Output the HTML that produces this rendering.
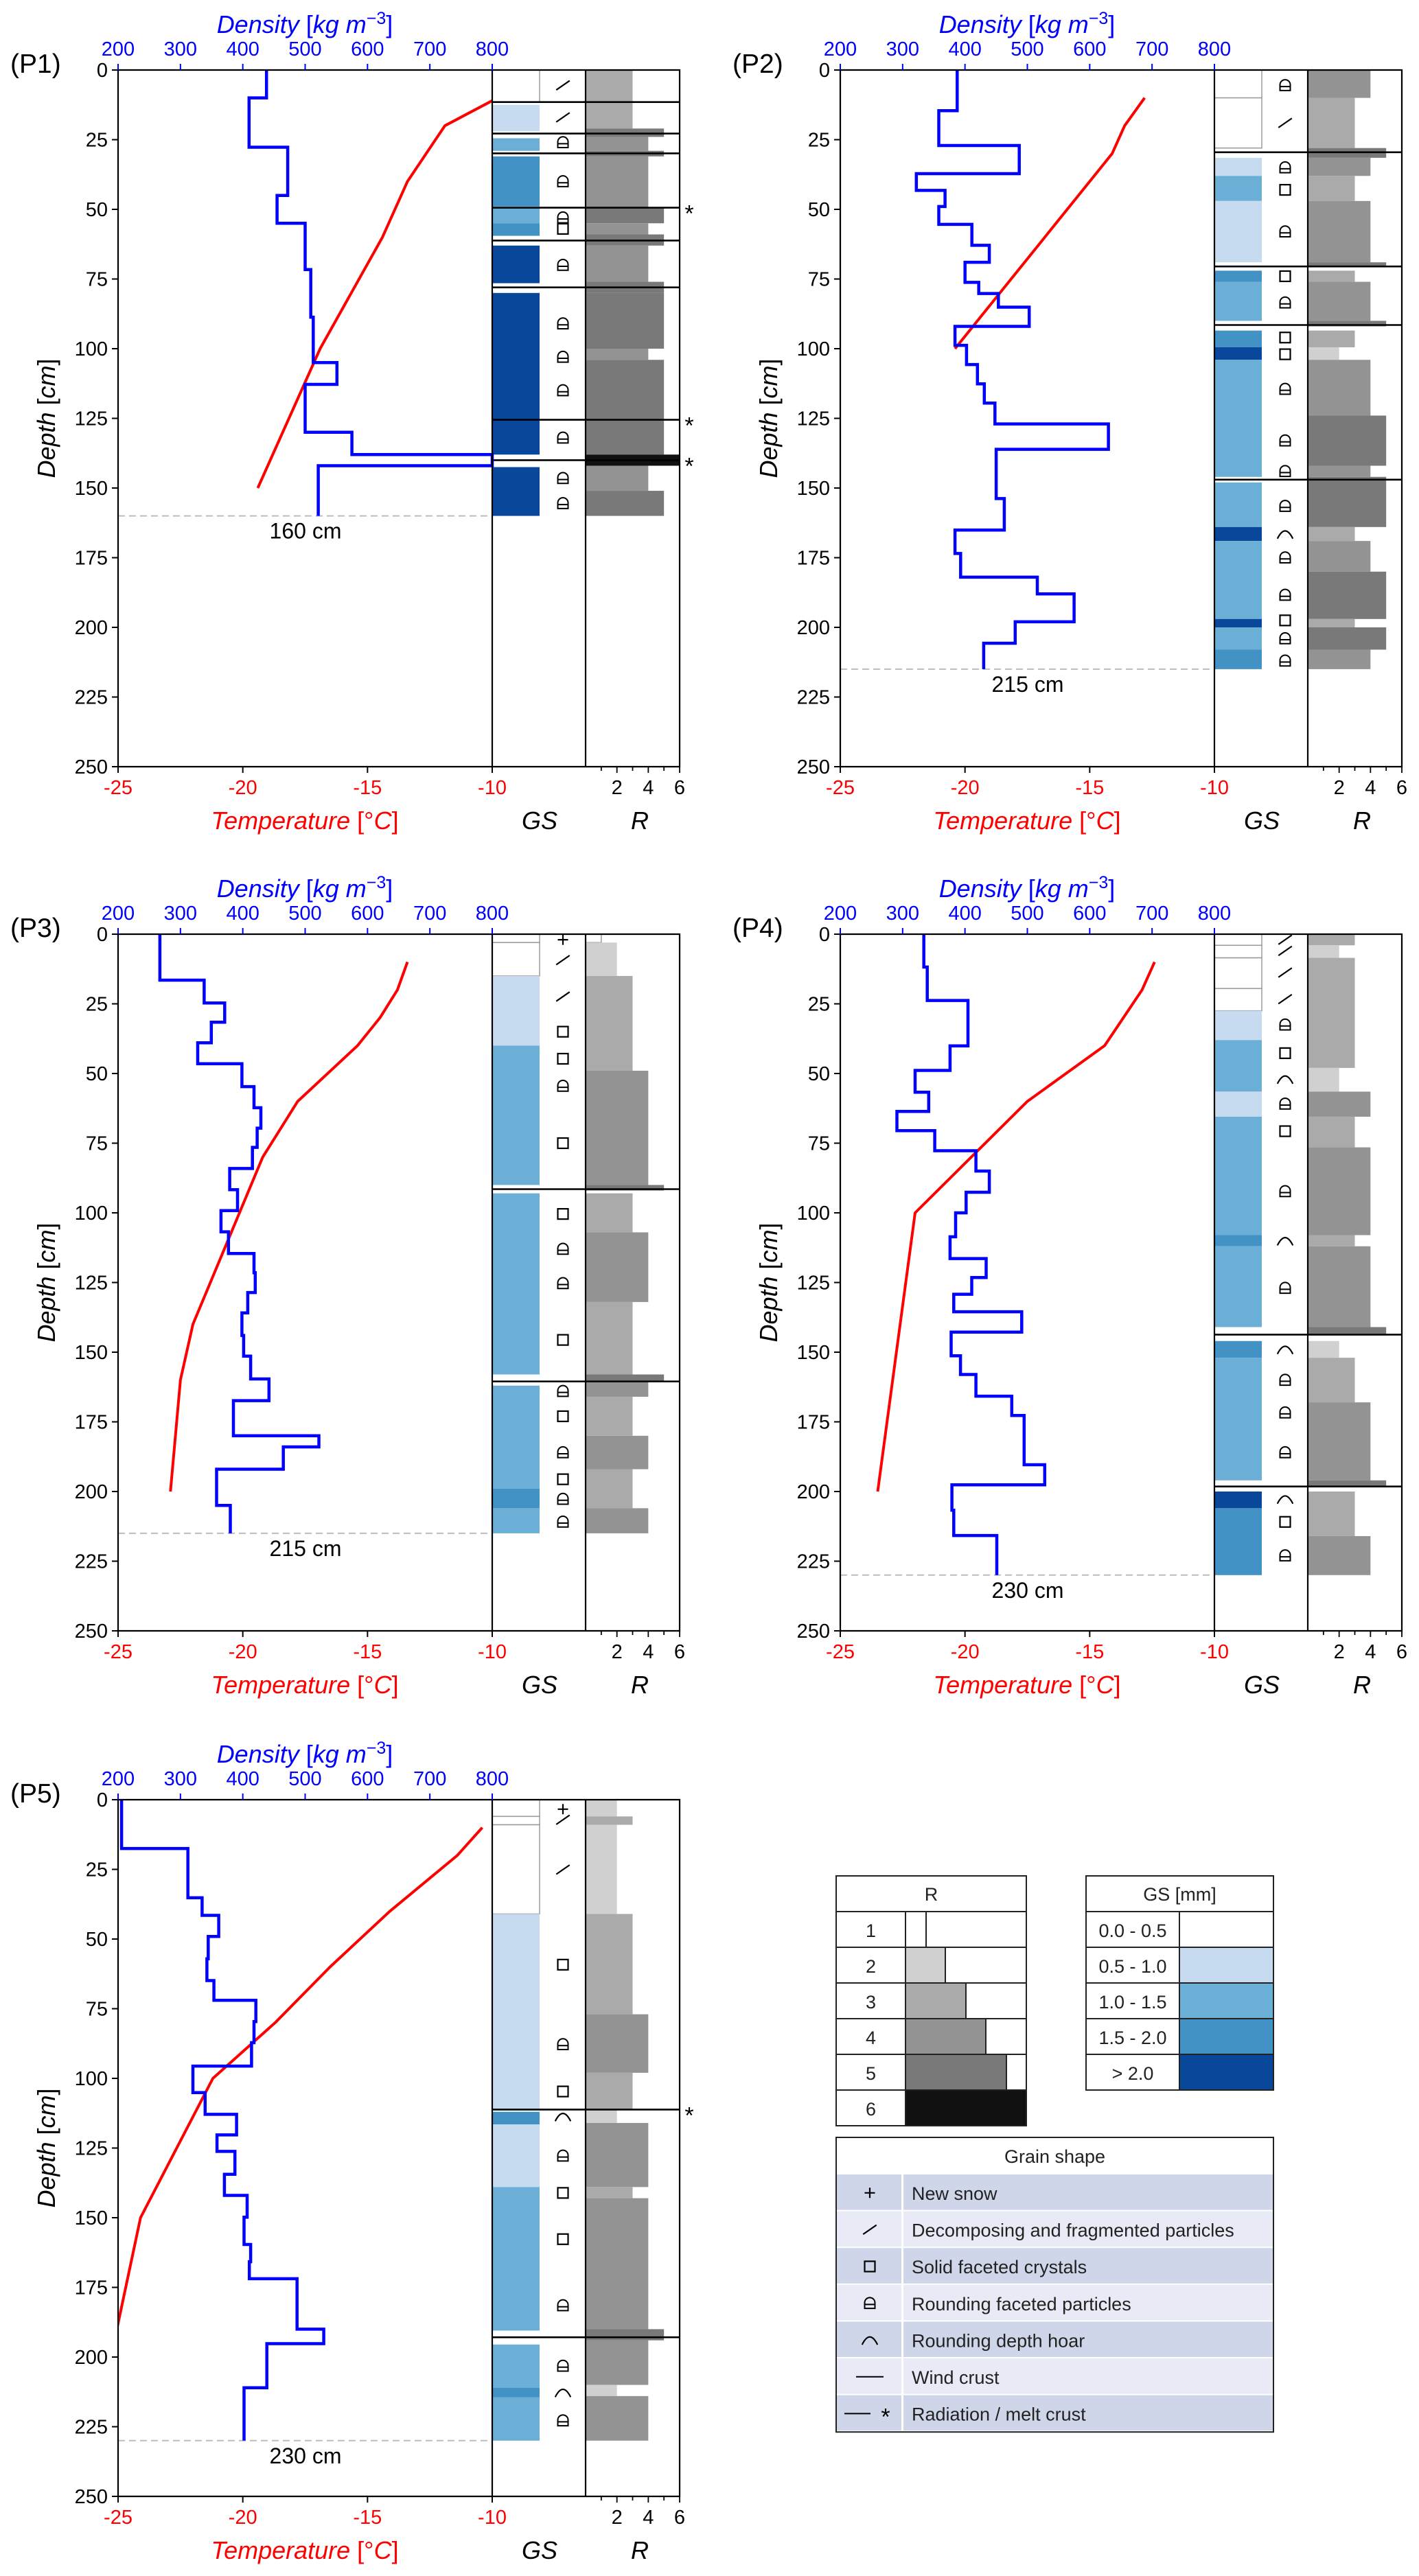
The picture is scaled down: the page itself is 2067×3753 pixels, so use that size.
<!DOCTYPE html>
<html><head><meta charset="utf-8"><title>Snow profiles P1–P5</title>
<style>
html,body{margin:0;padding:0;background:#fff;}
svg{display:block;font-family:"Liberation Sans",Arial,sans-serif;}
</style></head>
<body>
<svg id="fig" xmlns="http://www.w3.org/2000/svg" width="2067" height="3753" viewBox="0 0 2067 3753">
<rect x="0" y="0" width="2067" height="3753" fill="#fff"/>
</svg>
<script>
// ---------- data ----------
const p1DensTop=[0,10,27.7,45,55,71.6,88.7,105,112.8,130,138,142];
const p1Dens=[438,410,472,455,500,509,513,551,500,575,800,521];
const p1TempDepth=[11,20,40,60,100,150];
const p1Temp=[-10,-11.9,-13.4,-14.4,-16.9,-19.4];
const p1GsTop=[0,12.5,24.5,31,49.5,55,63,80,142.5];
const p1GsBot=[11.5,22,29,49,55,59.5,76.5,138,160];
const p1GsCls=[0,1,2,3,2,3,4,4,4];
const p1RTop=[0,21,24,29,31,49.5,55,59,63,76,80,100,104,138,142,151];
const p1RBot=[21,24,29,31,49.5,55,59,63,76,80,100,104,138,142,151,160];
const p1RVal=[3,5,4,5,4,5,4,5,4,5,5,4,5,6,4,5];
const p1SymDepth=[5.5,17,26,40,53,57,70,91,103,115,132,146.5,155.5];
const p1SymType=['d','d','r','r','r','s','r','r','r','r','r','r','r'];
const p1CrustDepth=[11.5,22.8,29.9,49.4,61.2,78,125.5,140];
const p1CrustStar=[0,0,0,1,0,0,1,1];

const p2DensTop=[0,14.6,27.1,37.2,43.2,49,55.4,62.9,69,76.2,80.2,85.1,92,98.8,105.7,112.6,119.5,127,136.1,153.8,165.1,173.5,182,188,198,205.7];
const p2Dens=[387.5,358,487,322,368,358,411,439,400,422,453.5,503,384,402.5,420,431,448,630,450,463,384,393,516,575,480.5,430];
const p2TempDepth=[10,20,30,100];
const p2Temp=[-12.8,-13.6,-14.1,-20.4];
const p2GsTop=[0,10,31.5,38,47,72,76,93.5,99.5,104,148,164,169,197,200,208];
const p2GsBot=[10,28,38,47,69,76,90,99.5,104,146,164,169,197,200,208,215];
const p2GsCls=[0,0,1,2,1,3,2,3,4,2,2,4,2,4,2,3];
const p2RTop=[0,10,28,31.5,38,47,69,72,76,90,93.5,99.5,104,124,142,146,164,169,180,197,200,208];
const p2RBot=[10,28,31.5,38,47,69,70.5,76,90,92,99.5,104,124,142,146,164,169,180,197,200,208,215];
const p2RVal=[4,3,5,4,3,4,5,3,4,5,3,2,4,5,4,5,3,4,5,3,5,4];
const p2SymDepth=[5.5,19,35,43,58,74,83.5,96,102,114.5,133,144,156.5,166.5,175,188.4,197.5,204,212];
const p2SymType=['r','d','r','s','r','s','r','s','s','r','r','r','r','h','r','r','s','r','r'];
const p2CrustDepth=[29.5,70.5,91.5,147];
const p2CrustStar=[0,0,0,0];

const p3DensTop=[0,16.5,24.7,31.6,39,46.5,54.7,62.3,69.6,76.5,84.1,91.7,99.2,106.8,114.6,121.5,128.6,135.9,144,151.4,159.6,167.4,180,184,192,205];
const p3Dens=[267,338,371,349.5,327.7,398.6,418,429,423,415.5,379,391.6,365,377,418,420,408,398.6,401.4,412.6,442,385,522,465,358,380];
const p3TempDepth=[10,20,30,40,60,80,140,160,200];
const p3Temp=[-13.4,-13.8,-14.5,-15.4,-17.8,-19.2,-22.0,-22.5,-22.9];
const p3GsTop=[0,3,15,40,93,162,199,206];
const p3GsBot=[3,15,40,90,158,199,206,215];
const p3GsCls=[0,0,1,2,2,2,3,2];
const p3RTop=[0,3,15,49,90,93,107,132,158,160.5,166,180,192,206];
const p3RBot=[3,15,49,90,92,107,132,158,160.5,166,180,192,206,215];
const p3RVal=[1,2,3,4,5,3,4,3,5,4,3,4,3,4];
const p3SymDepth=[2,9.3,22.4,35,44.7,54.5,75,100.4,113,125.3,145.6,164,173,186,195.6,202.7,210.9];
const p3SymType=['n','d','d','s','s','r','s','s','r','r','s','r','s','r','s','r','r'];
const p3CrustDepth=[91.5,160.5];
const p3CrustStar=[0,0];

const p4DensTop=[0,11.8,23.8,40.1,48.9,56.7,63.6,70.5,77.7,85,92.6,100,108.6,116.4,123.2,129.2,135.5,142.8,151.3,158,165.8,172.7,190.4,197.6,206.7,215.8];
const p4Dens=[334,339.5,404.8,376,320,341.8,290.8,351.5,417.5,439,401.8,385,376,434,410.8,382,491,377.8,392.8,417.5,475,494.8,527.8,379,382,451];
const p4TempDepth=[10,20,40,60,100,200];
const p4Temp=[-12.4,-12.9,-14.4,-17.5,-22.0,-23.5];
const p4GsTop=[0,4,8.5,19.5,27.5,38,56.5,65.5,108,112,146,152,200,206];
const p4GsBot=[4,8.5,19.5,27.5,38,56.5,65.5,108,112,141,152,196,206,230];
const p4GsCls=[0,0,0,0,1,2,1,2,3,2,3,2,4,3];
const p4RTop=[0,4,8.5,48,56.5,65.5,76.5,108,112,141,146,152,168,196,200,216];
const p4RBot=[4,8.5,48,56.5,65.5,76.5,108,112,141,144,152,168,196,198,216,230];
const p4RVal=[3,2,3,2,4,3,4,3,4,5,2,3,4,5,3,4];
const p4SymDepth=[2,6,13.8,23.3,32.5,42.7,52,60.9,70.7,92.3,110,127,149,160,171.7,186,202.7,210.9,223];
const p4SymType=['d','d','d','d','r','s','h','r','s','r','h','r','h','r','r','r','h','s','r'];
const p4CrustDepth=[143.7,198.2];
const p4CrustStar=[0,0];

const p5DensTop=[0,17.5,35.2,41.5,49.1,57.1,64.9,72,79.6,87.2,95.6,105.1,112.9,120.3,126.2,134.4,142,149.8,159.6,165.8,171.9,190,195.2,211];
const p5Dens=[205.6,312,334.7,361.4,344.6,342.5,353.7,421,418,414,320,339.6,390,358.6,387.4,370.5,407,402,412.6,410.5,487,529.8,438.6,402];
const p5TempDepth=[10,20,40,60,80,100,150,190];
const p5Temp=[-10.4,-11.4,-14.1,-16.5,-18.7,-21.2,-24.1,-25.05];
const p5GsTop=[0,6,9,41,112,116.5,139,195.5,211,214.5];
const p5GsBot=[6,9,41,111,116.5,139,190.5,211,214.5,230];
const p5GsCls=[0,0,0,1,3,1,2,2,3,2];
const p5RTop=[0,6,9,41,77,98,111,116,139,143,190,194,210,214];
const p5RBot=[6,9,41,77,98,111,116,139,143,190,194,210,214,230];
const p5RVal=[2,3,2,3,4,3,2,4,3,4,5,4,2,4];
const p5SymDepth=[3.4,7.2,25.1,59.2,87.8,104.7,113.7,127.8,141.1,157.7,181.5,203.2,212.7,222.8];
const p5SymType=['n','d','d','s','r','s','h','r','s','s','r','r','h','r'];
const p5CrustDepth=[111.2,192.9];
const p5CrustStar=[1,0];

const profileNames=['P1','P2','P3','P4','P5'];
const profileBottoms=[160,215,215,230,230];
const depthTicks=[0,25,50,75,100,125,150,175,200,225,250];
const densTicks=[200,300,400,500,600,700,800];
const tempTicks=[-25,-20,-15,-10];
const rTicks=[1,2,3,4,5,6];
const rTickLabels=['','2','','4','','6'];

const gsLegendLabels=['0.0 - 0.5','0.5 - 1.0','1.0 - 1.5','1.5 - 2.0','> 2.0'];
const rLegendValues=[1,2,3,4,5,6];
const shapeLegendTypes=['n','d','s','r','h','w','c'];
const shapeLegendLabels=['New snow','Decomposing and fragmented particles','Solid faceted crystals','Rounding faceted particles','Rounding depth hoar','Wind crust','Radiation / melt crust'];

// ---------- styles ----------
const GS_COL=['#ffffff','#c6dbef','#6baed6','#4292c6','#08479a'];
const R_COL={1:'#ffffff',2:'#d0d0d0',3:'#aaaaaa',4:'#939393',5:'#797979',6:'#111111'};
const NS='http://www.w3.org/2000/svg';
const svg=document.getElementById('fig');
const W=545, H=1015, PXCM=H/250, GSW=136, GSC=69, RW=137;
const origins=[[172,102],[1224,102],[172,1361],[1224,1361],[172,2622]];

function el(tag,attrs,parent){
  const e=document.createElementNS(NS,tag);
  for(const k in attrs) e.setAttribute(k,attrs[k]);
  (parent||svg).appendChild(e);
  return e;
}
function txt(s,attrs,parent){const e=el('text',attrs,parent);e.textContent=s;return e;}

function drawSym(type,cx,cy,g){
  const s=15;
  let e;
  if(type==='n'){
    e=el('path',{d:`M${cx-s/2},${cy}H${cx+s/2}M${cx},${cy-s/2}V${cy+s/2}`,stroke:'#000','stroke-width':2.2,fill:'none'},g);
  }else if(type==='d'){
    e=el('path',{d:`M${cx-s*0.65},${cy+s*0.45}L${cx+s*0.65},${cy-s*0.45}`,stroke:'#000','stroke-width':2.2,fill:'none'},g);
  }else if(type==='s'){
    e=el('rect',{x:cx-s/2,y:cy-s/2,width:s,height:s,stroke:'#000','stroke-width':2.2,fill:'none'},g);
  }else if(type==='r'){
    e=el('path',{d:`M${cx-s/2},${cy+s/2}V${cy-s*0.05}A${s/2},${s/2} 0 0 1 ${cx+s/2},${cy-s*0.05}V${cy+s/2}ZM${cx-s/2},${cy+s*0.12}H${cx+s/2}`,stroke:'#000','stroke-width':2,fill:'none'},g);
  }else if(type==='h'){
    e=el('path',{d:`M${cx-s*0.75},${cy+s*0.45}Q${cx},${cy-s*1.05} ${cx+s*0.75},${cy+s*0.45}`,stroke:'#000','stroke-width':2.2,fill:'none'},g);
  }else if(type==='w'){
    e=el('path',{d:`M${cx-20},${cy}H${cx+20}`,stroke:'#000','stroke-width':2,fill:'none'},g);
  }else if(type==='c'){
    e=el('path',{d:`M${cx-37},${cy}H${cx+1}`,stroke:'#000','stroke-width':2,fill:'none'},g);
    const st=txt('*',{x:cx+23,y:cy+16,'font-size':34,'text-anchor':'middle',fill:'#000'},g);
    
    
  }
  return e;
}

const profiles=[
 {dT:p1DensTop,d:p1Dens,tD:p1TempDepth,t:p1Temp,gT:p1GsTop,gB:p1GsBot,gC:p1GsCls,rT:p1RTop,rB:p1RBot,rV:p1RVal,sD:p1SymDepth,sT:p1SymType,cD:p1CrustDepth,cS:p1CrustStar},
 {dT:p2DensTop,d:p2Dens,tD:p2TempDepth,t:p2Temp,gT:p2GsTop,gB:p2GsBot,gC:p2GsCls,rT:p2RTop,rB:p2RBot,rV:p2RVal,sD:p2SymDepth,sT:p2SymType,cD:p2CrustDepth,cS:p2CrustStar},
 {dT:p3DensTop,d:p3Dens,tD:p3TempDepth,t:p3Temp,gT:p3GsTop,gB:p3GsBot,gC:p3GsCls,rT:p3RTop,rB:p3RBot,rV:p3RVal,sD:p3SymDepth,sT:p3SymType,cD:p3CrustDepth,cS:p3CrustStar},
 {dT:p4DensTop,d:p4Dens,tD:p4TempDepth,t:p4Temp,gT:p4GsTop,gB:p4GsBot,gC:p4GsCls,rT:p4RTop,rB:p4RBot,rV:p4RVal,sD:p4SymDepth,sT:p4SymType,cD:p4CrustDepth,cS:p4CrustStar},
 {dT:p5DensTop,d:p5Dens,tD:p5TempDepth,t:p5Temp,gT:p5GsTop,gB:p5GsBot,gC:p5GsCls,rT:p5RTop,rB:p5RBot,rV:p5RVal,sD:p5SymDepth,sT:p5SymType,cD:p5CrustDepth,cS:p5CrustStar}
];

profiles.forEach((p,i)=>{
  const [x0,y0]=origins[i];
  const yb=y0+H, gx=x0+W, rx=x0+W+GSW;
  const yS=d=>y0+d*PXCM;
  const xT=t=>x0+(t+25)/15*W;
  const xD=v=>x0+(v-200)/600*W;
  const xR=r=>rx+r/6*RW;
  const nm=profileNames[i].toLowerCase();
  const bottom=profileBottoms[i];

  const g=el('g',{});
  
  

  const clip=el('clipPath',{id:'clip'+i},g);
  el('rect',{x:x0,y:y0,width:W,height:H},clip);

  // GS blocks
  p.gT.forEach((t,k)=>{
    const c=p.gC[k];
    const r=el('rect',{x:gx,y:yS(t),width:GSC,height:yS(p.gB[k])-yS(t),fill:GS_COL[c],stroke:c===0?'#9a9a9a':'none','stroke-width':1.5},g);
    
    
  });
  // R bars
  p.rT.forEach((t,k)=>{
    const v=p.rV[k];
    const r=el('rect',{x:rx,y:yS(t),width:xR(v)-rx,height:yS(p.rB[k])-yS(t),fill:R_COL[v],stroke:v===1?'#9a9a9a':'none','stroke-width':1.5},g);
    
    
  });
  // symbols
  p.sD.forEach((d,k)=>{
    const s=drawSym(p.sT[k],x0+648,yS(d),g);
    
    
  });
  // crust lines
  p.cD.forEach((d,k)=>{
    const l=el('line',{x1:gx,x2:rx+RW,y1:yS(d),y2:yS(d),stroke:'#000','stroke-width':2.6},g);
    
    
    if(p.cS[k]){
      const st=txt('*',{x:rx+RW+14,y:yS(d)+20,'font-size':34,'text-anchor':'middle',fill:'#000'},g);
      
      
    }
  });

  // depth line
  const dl=el('line',{x1:x0,x2:gx,y1:yS(bottom),y2:yS(bottom),stroke:'#bdbdbd','stroke-width':2,'stroke-dasharray':'10,6'},g);
  
  
  const dlt=txt(bottom+' cm',{x:x0+273,y:yS(bottom)+33,'font-size':32,'text-anchor':'middle',fill:'#000'},g);
  
  

  // temperature line
  let tp='';
  p.tD.forEach((d,k)=>{tp+=(k?'L':'M')+xT(p.t[k]).toFixed(1)+','+yS(d).toFixed(1);});
  const tl=el('path',{d:tp,stroke:'#ff0000','stroke-width':4,fill:'none','stroke-linejoin':'round','clip-path':'url(#clip'+i+')'},g);
  
  

  // density step line
  let dp='';
  p.dT.forEach((d,k)=>{
    const x=xD(p.d[k]).toFixed(1);
    dp+=(k?'H'+x:'M'+x+','+yS(d).toFixed(1));
    const nb=k<p.dT.length-1?p.dT[k+1]:bottom;
    dp+='V'+yS(nb).toFixed(1);
  });
  const dline=el('path',{d:dp,stroke:'#0000ff','stroke-width':4.5,fill:'none','stroke-linejoin':'miter'},g);
  
  

  // axes frames
  const fr=el('path',{d:`M${x0},${y0}V${yb}H${rx+RW}V${y0}H${x0}M${gx},${y0}V${yb}M${rx},${y0}V${yb}`,stroke:'#000','stroke-width':2.2,fill:'none'},g);
  
  

  // depth ticks
  depthTicks.forEach(d=>{
    const tk=el('line',{x1:x0-9,x2:x0,y1:yS(d),y2:yS(d),stroke:'#000','stroke-width':2},g);
    
    
    const lb=txt(String(d),{x:x0-15,y:yS(d)+10,'font-size':29,'text-anchor':'end',fill:'#000'},g);
    
    
  });
  // density ticks
  densTicks.forEach(v=>{
    const tk=el('line',{x1:xD(v),x2:xD(v),y1:y0-9,y2:y0,stroke:'#0000ff','stroke-width':2},g);
    
    
    const lb=txt(String(v),{x:xD(v),y:y0-21,'font-size':29,'text-anchor':'middle',fill:'#0000ff'},g);
    
    
  });
  // temperature ticks
  tempTicks.forEach(v=>{
    const tk=el('line',{x1:xT(v),x2:xT(v),y1:yb,y2:yb+9,stroke:'#000','stroke-width':2},g);
    
    
    const lb=txt(String(v),{x:xT(v),y:yb+40,'font-size':29,'text-anchor':'middle',fill:'#ff0000'},g);
    
    
  });
  // R ticks
  rTicks.forEach((v,k)=>{
    const tk=el('line',{x1:xR(v),x2:xR(v),y1:yb,y2:yb+(rTickLabels[k]?9:6),stroke:'#000','stroke-width':1.8},g);
    
    
    if(rTickLabels[k]){
      const lb=txt(rTickLabels[k],{x:xR(v),y:yb+40,'font-size':29,'text-anchor':'middle',fill:'#000'},g);
      
      
    }
  });

  // titles
  const pl=txt('('+profileNames[i]+')',{x:x0-157,y:y0+4,'font-size':39,fill:'#000'},g);
  
  
  const dt=el('text',{x:x0+272,y:y0-54,'font-size':36,'text-anchor':'middle',fill:'#0000ff'},g);
  dt.innerHTML='<tspan font-style="italic">Density</tspan> [<tspan font-style="italic">kg m</tspan><tspan dy="-13" font-size="25">−3</tspan><tspan dy="13">]</tspan>';
  
  
  const tt=el('text',{x:x0+272,y:yb+91,'font-size':36,'text-anchor':'middle',fill:'#ff0000'},g);
  tt.innerHTML='<tspan font-style="italic">Temperature</tspan> [°<tspan font-style="italic">C</tspan>]';
  
  
  const gt=txt('GS',{x:x0+614,y:yb+91,'font-size':36,'font-style':'italic','text-anchor':'middle',fill:'#000'},g);
  
  
  const rt=txt('R',{x:x0+760,y:yb+91,'font-size':36,'font-style':'italic','text-anchor':'middle',fill:'#000'},g);
  
  
  const yt=el('text',{x:0,y:0,'font-size':36,'text-anchor':'middle',fill:'#000',transform:`translate(${x0-92},${y0+H/2}) rotate(-90)`},g);
  yt.innerHTML='<tspan font-style="italic">Depth</tspan> [<tspan font-style="italic">cm</tspan>]';
  
  
});

// ---------- legends ----------
const lg=el('g',{});



// R legend
{
  const L=1218,R=1495,T=2733,RH=52,C=1319;
  const box=el('rect',{x:L,y:T,width:R-L,height:RH*7,fill:'#fff',stroke:'#222','stroke-width':2},lg);
  
  
  const hd=txt('R',{x:(L+R)/2,y:T+36,'font-size':27,'text-anchor':'middle',fill:'#222'},lg);
  
  
  rLegendValues.forEach((v,k)=>{
    const y=T+RH*(k+1);
    const ln=el('line',{x1:L,x2:R,y1:y,y2:y,stroke:'#222','stroke-width':2},lg);
    
    
    const bar=el('rect',{x:C,y:y,width:(R-C)*(v===6?1:(v*0.1667+0.0)) ,height:RH,fill:R_COL[v],stroke:'#222','stroke-width':2},lg);
    bar.setAttribute('width',v===6?R-C:[30,58,88,117,147][v-1]);
    
    
    const lb=txt(String(v),{x:(L+C)/2,y:y+37,'font-size':27,'text-anchor':'middle',fill:'#222'},lg);
    
    
  });
  const cl=el('line',{x1:C,x2:C,y1:T+RH,y2:T+RH*7,stroke:'#222','stroke-width':2},lg);
  
  
}
// GS legend
{
  const L=1582,R=1855,T=2733,RH=52,C=1718;
  const box=el('rect',{x:L,y:T,width:R-L,height:RH*6,fill:'#fff',stroke:'#222','stroke-width':2},lg);
  
  
  const hd=txt('GS [mm]',{x:(L+R)/2,y:T+36,'font-size':27,'text-anchor':'middle',fill:'#222'},lg);
  
  
  gsLegendLabels.forEach((s,k)=>{
    const y=T+RH*(k+1);
    const sw=el('rect',{x:C,y:y,width:R-C,height:RH,fill:GS_COL[k],stroke:'#222','stroke-width':2},lg);
    
    
    const ln=el('line',{x1:L,x2:C,y1:y,y2:y,stroke:'#222','stroke-width':2},lg);
    
    
    const lb=txt(s,{x:(L+C)/2,y:y+37,'font-size':27,'text-anchor':'middle',fill:'#222'},lg);
    
    
  });
}
// Grain shape legend
{
  const L=1218,R=1855,T=3114,HH=54,RH=53.6,C=1314;
  const box=el('rect',{x:L,y:T,width:R-L,height:HH+RH*7,fill:'#fff',stroke:'#222','stroke-width':2},lg);
  
  
  const hd=txt('Grain shape',{x:(L+R)/2,y:T+37,'font-size':27,'text-anchor':'middle',fill:'#222'},lg);
  
  
  shapeLegendTypes.forEach((tp,k)=>{
    const y=T+HH+RH*k;
    const bg=el('rect',{x:L+1,y:y,width:C-L-2,height:RH-2,fill:k%2?'#e8ebf5':'#cfd6e9'},lg);
    
    
    const bg2=el('rect',{x:C+2,y:y,width:R-C-3,height:RH-2,fill:k%2?'#e8ebf5':'#cfd6e9'},lg);
    
    
    const s=drawSym(tp,1267,y+RH/2,lg);
    
    
    const lb=txt(shapeLegendLabels[k],{x:1328,y:y+37,'font-size':27,fill:'#222'},lg);
    
    
  });
}
</script>
</body></html>
